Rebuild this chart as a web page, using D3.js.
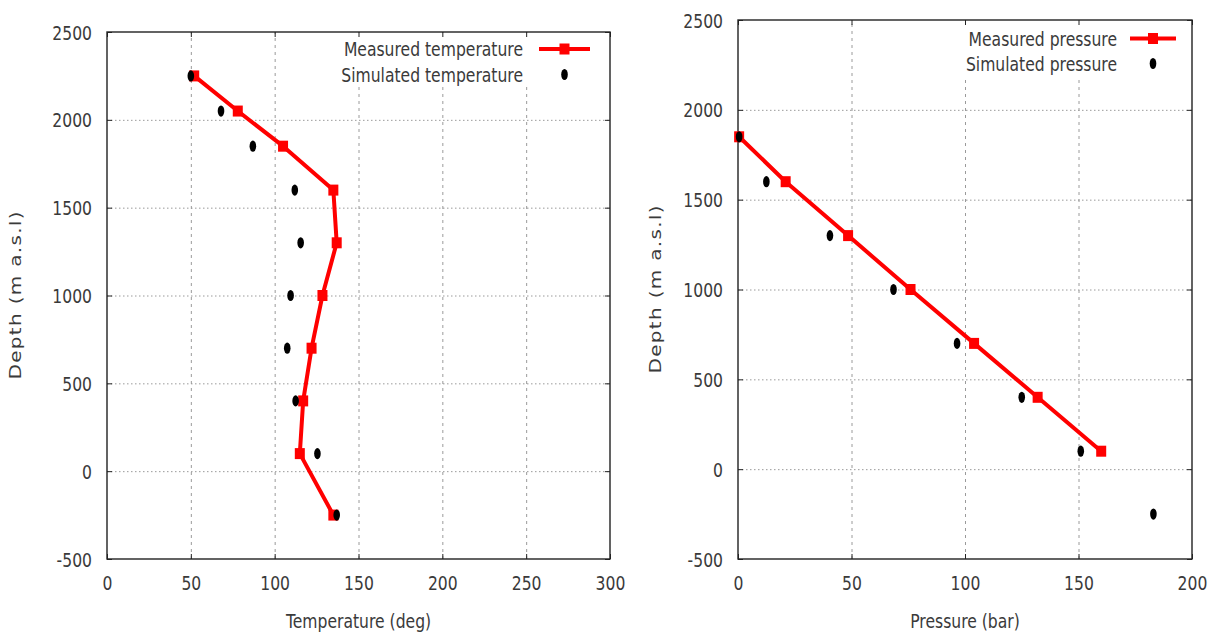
<!DOCTYPE html>
<html>
<head>
<meta charset="utf-8">
<script src="https://cdn.jsdelivr.net/npm/d3@7"></script>
<style>
  html, body { margin: 0; padding: 0; background: #fff; }
  svg { display: block; }
  text { font-family: "DejaVu Sans", sans-serif; font-size: 20px; fill: #3a3a3a; }
</style>
</head>
<body>
<svg id="chart" width="1219" height="637"></svg>
<script>
// ---------------- data ----------------
const depthTicks = [-500, 0, 500, 1000, 1500, 2000, 2500];
const tempTicks = [0, 50, 100, 150, 200, 250, 300];
const pressureTicks = [0, 50, 100, 150, 200];

const tempDepths = [2250, 2050, 1850, 1600, 1300, 1000, 700, 400, 100, -250];
const measuredTemp = [52, 78, 105, 135, 137, 128.5, 122, 117, 115, 135];
const simulatedTemp = [50, 68, 87, 112, 115.5, 109.5, 107.5, 112.5, 125.5, 137];

const measuredPressureDepths = [1850, 1600, 1300, 1000, 700, 400, 100];
const measuredPressure = [0.5, 21, 48.5, 76, 104, 132, 160];
const simulatedPressureDepths = [1850, 1600, 1300, 1000, 700, 400, 100, -250];
const simulatedPressure = [0.5, 12.5, 40.5, 68.5, 96.5, 125, 151, 183];

// ---------------- layout ----------------
const SQ = 0.78; // horizontal squeeze of text
const svg = d3.select("#chart");
const fmt = d => String(d); // plain hyphen-minus like the reference

const panels = [
  {
    x0: 107, x1: 610, y0: 32, y1: 559,
    xTicks: tempTicks, xLabel: "Temperature (deg)", yLabelX: 21,
    measured: measuredTemp, measuredDepths: tempDepths,
    simulated: simulatedTemp, simulatedDepths: tempDepths,
    legend: ["Measured temperature", "Simulated temperature"],
    legendBg: { x: 330, y: 33, w: 277, h: 54 },
    legendTextX: 523, legendLine: [539, 590], legendY: [49, 74.5]
  },
  {
    x0: 738, x1: 1192, y0: 20, y1: 559,
    xTicks: pressureTicks, xLabel: "Pressure (bar)", yLabelX: 661,
    measured: measuredPressure, measuredDepths: measuredPressureDepths,
    simulated: simulatedPressure, simulatedDepths: simulatedPressureDepths,
    legend: ["Measured pressure", "Simulated pressure"],
    legendBg: { x: 930, y: 21, w: 260, h: 56 },
    legendTextX: 1117, legendLine: [1130, 1176], legendY: [38.5, 63.5]
  }
];

function squeezeText(sel) {
  sel.each(function () {
    const t = d3.select(this);
    const x = +t.attr("x") || 0;
    t.attr("x", x / SQ).attr("transform", `scale(${SQ},1)`);
  });
}

panels.forEach(p => {
  const g = svg.append("g");
  const x = d3.scaleLinear().domain([p.xTicks[0], p.xTicks[p.xTicks.length - 1]]).range([p.x0, p.x1]);
  const y = d3.scaleLinear().domain([depthTicks[0], depthTicks[depthTicks.length - 1]]).range([p.y1, p.y0]);
  const w = p.x1 - p.x0, h = p.y1 - p.y0;

  // grid
  const innerX = p.xTicks.slice(1, -1);
  const innerY = depthTicks.slice(1, -1);
  g.append("g").attr("transform", `translate(0,${p.y1})`)
    .call(d3.axisBottom(x).tickValues(innerX).tickSize(-h).tickFormat(""))
    .call(s => s.select(".domain").remove())
    .selectAll("line").attr("stroke", "#9a9a9a").attr("stroke-width", 1).attr("stroke-dasharray", "3,4");
  g.append("g").attr("transform", `translate(${p.x0},0)`)
    .call(d3.axisLeft(y).tickValues(innerY).tickSize(-w).tickFormat(""))
    .call(s => s.select(".domain").remove())
    .selectAll("line").attr("stroke", "#9a9a9a").attr("stroke-width", 1).attr("stroke-dasharray", "1.5,2.5");

  // legend background
  g.append("rect").attr("x", p.legendBg.x).attr("y", p.legendBg.y)
    .attr("width", p.legendBg.w).attr("height", p.legendBg.h).attr("fill", "#fff");

  // border
  g.append("rect").attr("x", p.x0).attr("y", p.y0).attr("width", w).attr("height", h)
    .attr("fill", "none").attr("stroke", "#222").attr("stroke-width", 1.4);

  // axes with inward ticks
  const bottom = g.append("g").attr("transform", `translate(0,${p.y1})`)
    .call(d3.axisBottom(x).tickValues(p.xTicks).tickSize(-5).tickPadding(17).tickFormat(fmt));
  bottom.select(".domain").remove();
  bottom.selectAll("line").attr("stroke", "#222");
  bottom.selectAll("text").attr("dy", "0.72em").attr("font-size", 20).attr("font-family", "DejaVu Sans").attr("fill", "#3a3a3a")
    .call(squeezeText);

  const left = g.append("g").attr("transform", `translate(${p.x0},0)`)
    .call(d3.axisLeft(y).tickValues(depthTicks).tickSize(-5).tickPadding(15).tickFormat(fmt));
  left.select(".domain").remove();
  left.selectAll("line").attr("stroke", "#222");
  left.selectAll("text").attr("dy", "0.35em").attr("font-size", 20).attr("font-family", "DejaVu Sans").attr("fill", "#3a3a3a")
    .call(squeezeText);

  const top = g.append("g").attr("transform", `translate(0,${p.y0})`)
    .call(d3.axisTop(x).tickValues(p.xTicks).tickSize(-5).tickFormat(""));
  top.select(".domain").remove();
  top.selectAll("line").attr("stroke", "#222");
  const right = g.append("g").attr("transform", `translate(${p.x1},0)`)
    .call(d3.axisRight(y).tickValues(depthTicks).tickSize(-5).tickFormat(""));
  right.select(".domain").remove();
  right.selectAll("line").attr("stroke", "#222");

  // axis titles
  g.append("text").attr("text-anchor", "middle")
    .attr("transform", `translate(${(p.x0 + p.x1) / 2},628) scale(${SQ},1)`)
    .text(p.xLabel);
  g.append("text").attr("text-anchor", "middle")
    .attr("transform", `translate(${p.yLabelX},${(p.y0 + p.y1) / 2}) scale(${SQ},1) rotate(-90)`)
    .attr("textLength", 168).attr("lengthAdjust", "spacing")
    .text("Depth (m a.s.l)");

  // measured line + squares, simulated dots
  const mData = p.measured.map((v, i) => [v, p.measuredDepths[i]]);
  const sData = p.simulated.map((v, i) => [v, p.simulatedDepths[i]]);
  g.append("path").datum(mData)
    .attr("d", d3.line().x(d => x(d[0])).y(d => y(d[1])))
    .attr("fill", "none").attr("stroke", "#ff0000").attr("stroke-width", 4).attr("stroke-linejoin", "round");
  g.selectAll(".sq").data(mData).enter().append("rect")
    .attr("x", d => x(d[0]) - 5).attr("y", d => y(d[1]) - 5.5)
    .attr("width", 10).attr("height", 11).attr("fill", "#ff0000");
  g.selectAll(".dot").data(sData).enter().append("ellipse")
    .attr("cx", d => x(d[0])).attr("cy", d => y(d[1]))
    .attr("rx", 3.3).attr("ry", 5.6).attr("fill", "#000");

  // legend
  g.append("text").attr("text-anchor", "end")
    .attr("transform", `translate(${p.legendTextX},${p.legendY[0] + 7}) scale(${SQ},1)`)
    .text(p.legend[0]);
  g.append("text").attr("text-anchor", "end")
    .attr("transform", `translate(${p.legendTextX},${p.legendY[1] + 7}) scale(${SQ},1)`)
    .text(p.legend[1]);
  const lx = (p.legendLine[0] + p.legendLine[1]) / 2;
  g.append("line").attr("x1", p.legendLine[0]).attr("x2", p.legendLine[1])
    .attr("y1", p.legendY[0]).attr("y2", p.legendY[0])
    .attr("stroke", "#ff0000").attr("stroke-width", 4);
  g.append("rect").attr("x", lx - 5).attr("y", p.legendY[0] - 5.5).attr("width", 10).attr("height", 11).attr("fill", "#ff0000");
  g.append("ellipse").attr("cx", lx).attr("cy", p.legendY[1]).attr("rx", 3.3).attr("ry", 5.6).attr("fill", "#000");
});
</script>
</body>
</html>
